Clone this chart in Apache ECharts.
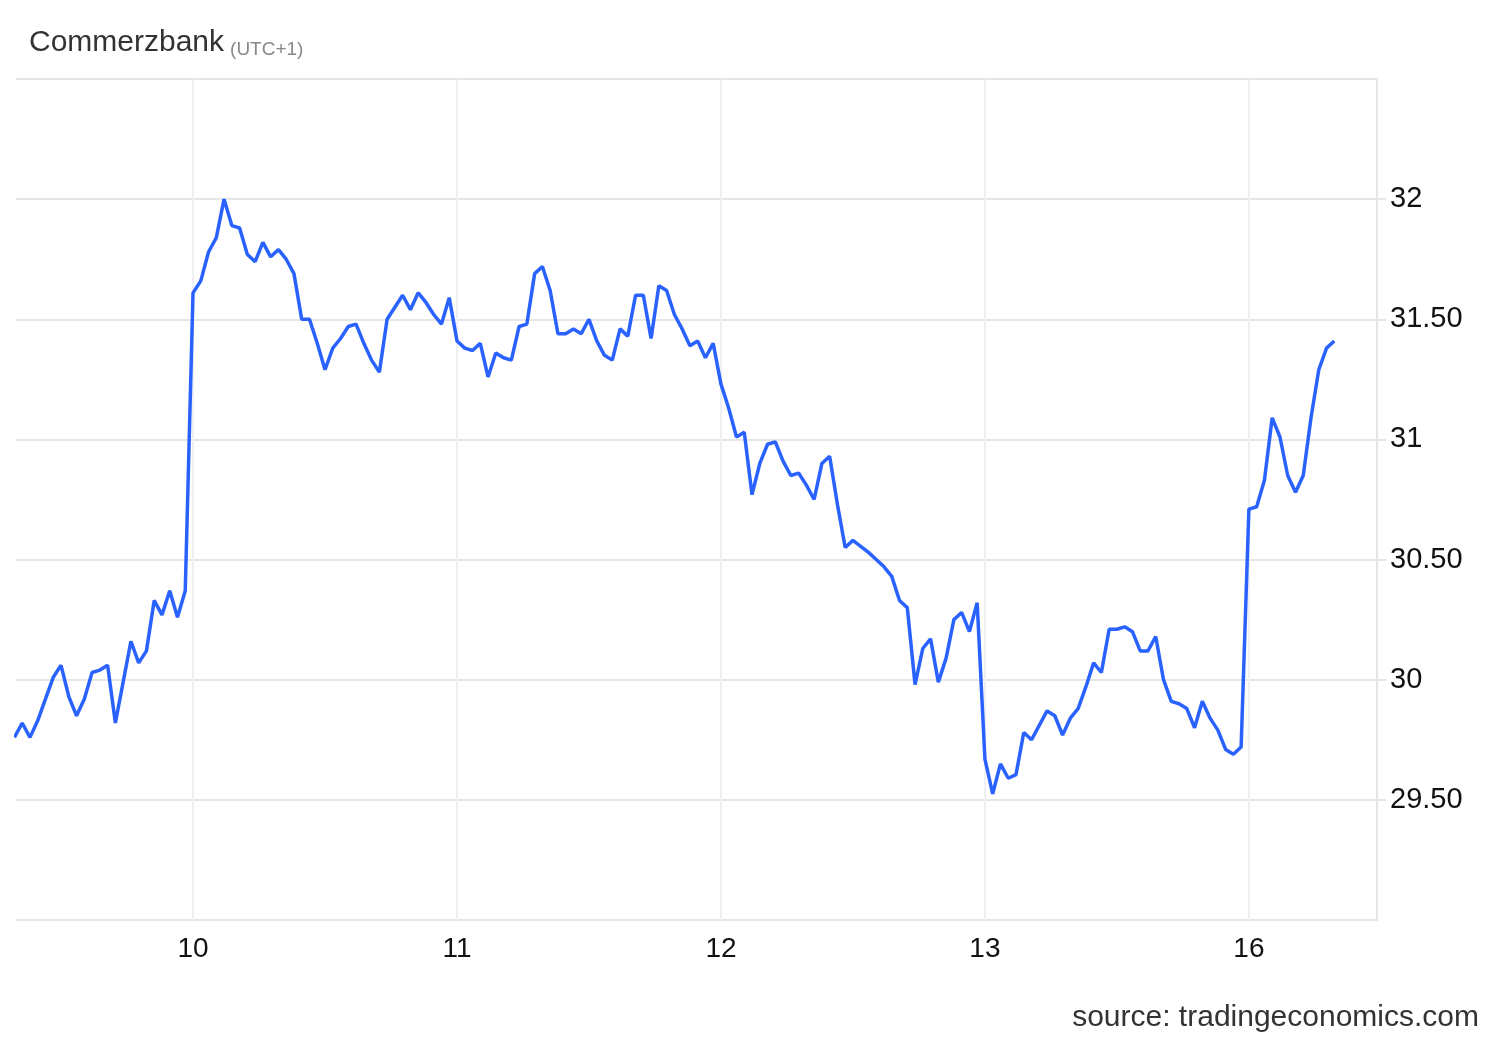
<!DOCTYPE html>
<html>
<head>
<meta charset="utf-8">
<script src="https://cdn.jsdelivr.net/npm/echarts@6/dist/echarts.min.js"></script>
<style>
html,body{margin:0;padding:0;background:#fff;}
#chart{width:1500px;height:1040px;}
</style>
</head>
<body>
<div id="chart"></div>
<script>
// Day labels and the slot index (15-min bars, 34 per session) where each day starts
const dayLabels = ['10', '11', '12', '13', '16'];
const dayStarts = [0, 34, 68, 102, 136];
// Slot index of the first price (previous session's afternoon)
const firstSlot = -23;
// Visible x range in slot units
const xMin = -22.8;
const xMax = 152.5;

// Prices (EUR), one per 15-min slot
const pricesDay9 = [29.76, 29.82, 29.76, 29.83, 29.92, 30.01, 30.06, 29.93, 29.85, 29.92,
  30.03, 30.04, 30.06, 29.82, 29.99, 30.16, 30.07, 30.12, 30.33, 30.27, 30.37, 30.26, 30.37];
const pricesDay10 = [31.61, 31.66, 31.78, 31.84, 32.00, 31.89, 31.88, 31.77, 31.74, 31.82,
  31.76, 31.79, 31.75, 31.69, 31.50, 31.50, 31.40, 31.29, 31.38, 31.42, 31.47, 31.48, 31.40,
  31.33, 31.28, 31.50, 31.55, 31.60, 31.54, 31.61, 31.57, 31.52, 31.48, 31.59];
const pricesDay11 = [31.41, 31.38, 31.37, 31.40, 31.26, 31.36, 31.34, 31.33, 31.47, 31.48,
  31.69, 31.72, 31.62, 31.44, 31.44, 31.46, 31.44, 31.50, 31.41, 31.35, 31.33, 31.46, 31.43,
  31.60, 31.60, 31.42, 31.64, 31.62, 31.52, 31.46, 31.39, 31.41, 31.34, 31.40];
const pricesDay12 = [31.23, 31.13, 31.01, 31.03, 30.77, 30.90, 30.98, 30.99, 30.91, 30.85,
  30.86, 30.81, 30.75, 30.90, 30.93, 30.73, 30.55, 30.58, 30.555, 30.53, 30.50, 30.47, 30.43,
  30.33, 30.30, 29.98, 30.13, 30.17, 29.99, 30.09, 30.25, 30.28, 30.20, 30.32];
const pricesDay13 = [29.67, 29.525, 29.65, 29.59, 29.605, 29.78, 29.75, 29.81, 29.87, 29.85,
  29.77, 29.84, 29.88, 29.97, 30.07, 30.03, 30.21, 30.21, 30.22, 30.20, 30.12, 30.12, 30.18,
  30.00, 29.91, 29.90, 29.88, 29.80, 29.91, 29.84, 29.79, 29.71, 29.69, 29.72];
const pricesDay16 = [30.71, 30.72, 30.83, 31.09, 31.01, 30.85, 30.78, 30.85, 31.09, 31.29,
  31.38, 31.41];

const prices = [].concat(pricesDay9, pricesDay10, pricesDay11, pricesDay12, pricesDay13, pricesDay16);
const seriesData = prices.map((v, i) => [firstSlot + i, v]);

// y axis
const yMin = 29, yMax = 32.5, yStep = 0.5;

const FONT = "'Liberation Sans', Arial, Helvetica, sans-serif";

const chart = echarts.init(document.getElementById('chart'), null, {renderer: 'canvas'});

chart.setOption({
  animation: false,
  backgroundColor: '#ffffff',
  title: [{
    text: 'Commerzbank{utc|(UTC+1)}',
    left: 24,
    top: 22,
    textStyle: {
      fontFamily: FONT,
      fontSize: 30,
      fontWeight: 'normal',
      color: '#333333',
      rich: {
        utc: { fontFamily: FONT, fontSize: 19, color: '#888888', verticalAlign: 'bottom', lineHeight: 32, padding: [0, 0, 0, 6] }
      }
    }
  }, {
    text: 'source: tradingeconomics.com',
    right: 16,
    top: 998,
    textStyle: { fontFamily: FONT, fontSize: 30, fontWeight: 'normal', color: '#333333' }
  }],
  grid: { left: 16, right: 123, top: 79, bottom: 120, containLabel: false },
  xAxis: {
    type: 'value',
    min: xMin,
    max: xMax,
    axisLine: { show: false },
    axisTick: { show: false, customValues: dayStarts },
    splitLine: { show: true, lineStyle: { color: '#eef0f4', width: 2 } },
    axisLabel: {
      customValues: dayStarts,
      formatter: function (v) {
        const k = dayStarts.indexOf(Math.round(v));
        return k >= 0 ? dayLabels[k] : '';
      },
      fontFamily: FONT,
      fontSize: 28,
      color: '#111111',
      margin: 15
    }
  },
  yAxis: {
    type: 'value',
    position: 'right',
    min: yMin,
    max: yMax,
    interval: yStep,
    axisLine: { show: true, onZero: false, lineStyle: { color: '#e6e6e6', width: 2 } },
    axisTick: { show: true, length: 9, lineStyle: { color: '#e6e6e6', width: 2 } },
    splitLine: { show: true, lineStyle: { color: '#e6e6e6', width: 2 } },
    axisLabel: {
      showMinLabel: false,
      showMaxLabel: false,
      margin: 13,
      fontFamily: FONT,
      fontSize: 29,
      color: '#111111',
      formatter: function (v) {
        return Math.abs(v - Math.round(v)) < 1e-9 ? String(Math.round(v)) : v.toFixed(2);
      }
    }
  },
  series: [{
    type: 'line',
    data: seriesData,
    showSymbol: false,
    symbol: 'none',
    lineStyle: { color: '#2962ff', width: 3.5 },
    itemStyle: { color: '#2962ff' },
    clip: true
  }]
});
</script>
</body>
</html>
